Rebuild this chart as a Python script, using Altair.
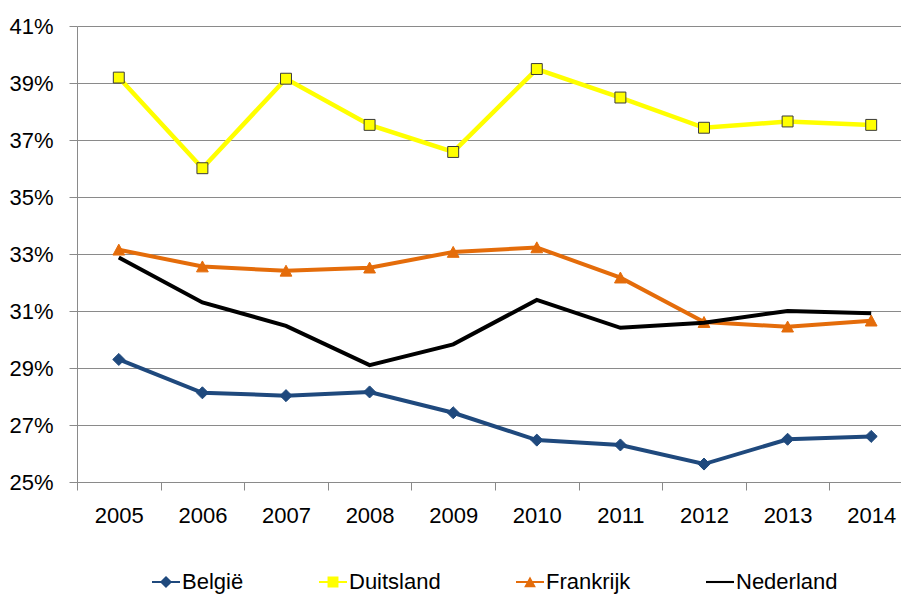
import altair as alt
import pandas as pd

# Aandeel per land, in procent, per jaar
jaren = ["2005", "2006", "2007", "2008", "2009", "2010", "2011", "2012", "2013", "2014"]
belgie = [29.30, 28.13, 28.03, 28.16, 27.43, 26.47, 26.30, 25.63, 26.50, 26.60]
duitsland = [39.19, 36.01, 39.15, 37.53, 36.58, 39.49, 38.49, 37.43, 37.65, 37.53]
frankrijk = [33.15, 32.56, 32.41, 32.52, 33.07, 33.23, 32.17, 30.61, 30.45, 30.66]
nederland = [32.88, 31.30, 30.48, 29.10, 29.83, 31.39, 30.41, 30.59, 31.00, 30.92]

landen = ["België", "Duitsland", "Frankrijk", "Nederland"]
reeksen = [belgie, duitsland, frankrijk, nederland]
lijnkleuren = ["#1F497D", "#FFFF00", "#E46C0A", "#000000"]
lijndiktes = [4, 4.5, 4, 4]

# Markervormen per land (Nederland zonder marker); eenheid = halve symboolbreedte
markers = [
    "M0,-0.43 L0.43,0 L0,0.43 L-0.43,0 Z",
    "M-0.39,-0.39 L0.39,-0.39 L0.39,0.39 L-0.39,0.39 Z",
    "M0,-0.4 L0.42,0.38 L-0.42,0.38 Z",
    None,
]
markerranden = ["#1F497D", "#3A3A3A", "#E46C0A", None]

# Legendasymbool: kort lijnstuk met de marker erop
LIJNSTUK = "M-1,-0.075 L1,-0.075 L1,0.075 L-1,0.075 Z"
legendavormen = [LIJNSTUK + (" " + m if m else "") for m in markers]

rows = []
for land, waarden in zip(landen, reeksen):
    for jaar, w in zip(jaren, waarden):
        rows.append({"Land": land, "Jaar": jaar, "Waarde": w})
df = pd.DataFrame(rows)

FONT = "Liberation Sans, Arial, sans-serif"
GRIJS = "#8A8A8A"
FS = 22

x_enc = alt.X(
    "Jaar:O",
    sort=jaren,
    scale=alt.Scale(type="band", domain=jaren, range=[0, 836], paddingInner=0, paddingOuter=0),
    axis=alt.Axis(
        title=None, labelAngle=0, grid=False, tickBand="extent",
        tickSize=8, tickColor=GRIJS, domainColor=GRIJS, labelPadding=15,
        labelFont=FONT, labelFontSize=FS, labelColor="#000000",
    ),
)
y_enc = alt.Y(
    "Waarde:Q",
    scale=alt.Scale(domain=[25, 41], nice=False, zero=False),
    axis=alt.Axis(
        title=None, values=list(range(25, 42, 2)), labelExpr="datum.value + '%'",
        grid=True, gridColor=GRIJS, gridWidth=1.2, tickSize=8, tickColor=GRIJS,
        domainColor=GRIJS, labelPadding=16,
        labelFont=FONT, labelFontSize=FS, labelColor="#000000",
    ),
)

basis = alt.Chart(df)
lagen = []
for i, land in enumerate(landen):
    reeks = basis.transform_filter(alt.datum.Land == land)
    lagen.append(
        reeks.mark_line(color=lijnkleuren[i], strokeWidth=lijndiktes[i]).encode(x=x_enc, y=y_enc)
    )
    if markers[i]:
        lagen.append(
            reeks.mark_point(
                shape=markers[i], filled=True, fill=lijnkleuren[i], stroke=markerranden[i],
                strokeWidth=1, size=784, opacity=1,
            ).encode(x=x_enc, y=y_enc)
        )

# Legenda onderaan: lijnstuk plus marker per land
legenda = alt.Legend(
    title=None, orient="none", legendX=75, legendY=542, direction="horizontal",
    symbolSize=784, symbolStrokeWidth=0, labelOffset=2, columnPadding=75, padding=0,
    labelFont=FONT, labelFontSize=FS, labelColor="#000000",
)
legendalaag = basis.transform_filter("false").mark_point(
    filled=True, opacity=1, strokeWidth=0
).encode(
    x=x_enc,
    y=y_enc,
    fill=alt.Fill("Land:N", scale=alt.Scale(domain=landen, range=lijnkleuren), legend=legenda),
    shape=alt.Shape("Land:N", scale=alt.Scale(domain=landen, range=legendavormen), legend=legenda),
)
lagen.append(legendalaag)

chart = alt.layer(*lagen).properties(
    width=824,
    height=456,
    autosize=alt.AutoSizeParams(type="none"),
    padding={"left": 77, "top": 26, "right": 0, "bottom": 113},
    background="#FFFFFF",
).configure_view(
    strokeWidth=0
)

chart.save("out.html", embed_options={"renderer": "svg", "actions": False})
